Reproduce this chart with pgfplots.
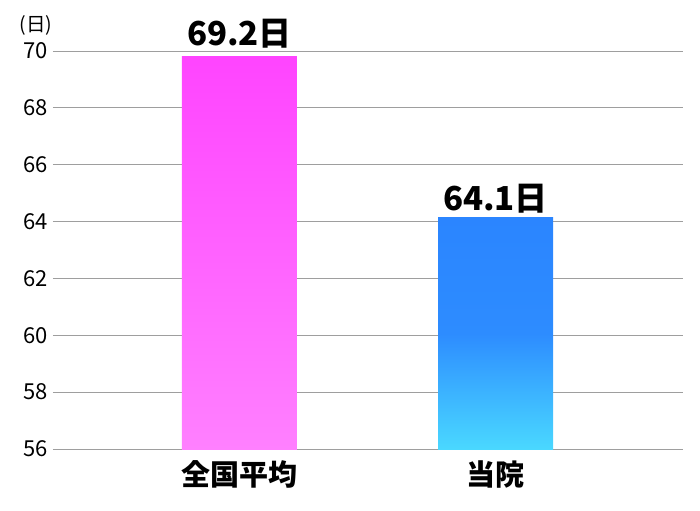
\documentclass[border=0pt]{standalone}
\usepackage{fontspec}
\setmainfont{Noto Sans CJK JP}
\usepackage{pgfplots}
\pgfplotsset{compat=1.18}
\begin{document}
\begin{tikzpicture}
\begin{axis}[
  at={(0,0)}, anchor=south west,
  scale only axis, width=630bp, height=398bp,
  xmin=-0.728, xmax=1.732, ymin=56, ymax=70,
  ytick={56,58,...,70},
  xtick={0,1}, xticklabels={全国平均,当院},
  axis line style={draw=none},
  tick style={draw=none},
  ymajorgrids, grid style={draw=black!38, line width=0.9pt},
  /pgf/number format/assume math mode=true,
  yticklabel style={font=\fontsize{22bp}{24bp}\selectfont, xshift=-2bp},
  xticklabel style={font=\fontsize{29bp}{31bp}\selectfont\bfseries, yshift=-8bp},
  clip=false,
]
\addplot[ybar, bar width=115bp, draw=none, shading=axis, top color={rgb,255:red,255;green,68;blue,255}, bottom color={rgb,255:red,255;green,128;blue,255}] coordinates {(0,69.82)};
\addplot[ybar, bar width=115bp, draw=none, shading=axis, top color={rgb,255:red,43;green,133;blue,255}, bottom color={rgb,255:red,74;green,216;blue,255}, middle color={rgb,255:red,45;green,140;blue,255}] coordinates {(1,64.14)};
\node[anchor=base, font=\fontsize{33bp}{35bp}\selectfont\bfseries, inner sep=0] at (axis cs:0,70.2) {69.2日};
\node[anchor=base, font=\fontsize{33bp}{35bp}\selectfont\bfseries, inner sep=0] at (axis cs:1,64.4) {64.1日};
\node[anchor=base west, font=\fontsize{19.5bp}{21bp}\selectfont, inner sep=0] at (axis cs:-0.858,70.7) {(日)};
\end{axis}
\useasboundingbox (-53bp,-62bp) rectangle (647bp,449bp);
\end{tikzpicture}
\end{document}
